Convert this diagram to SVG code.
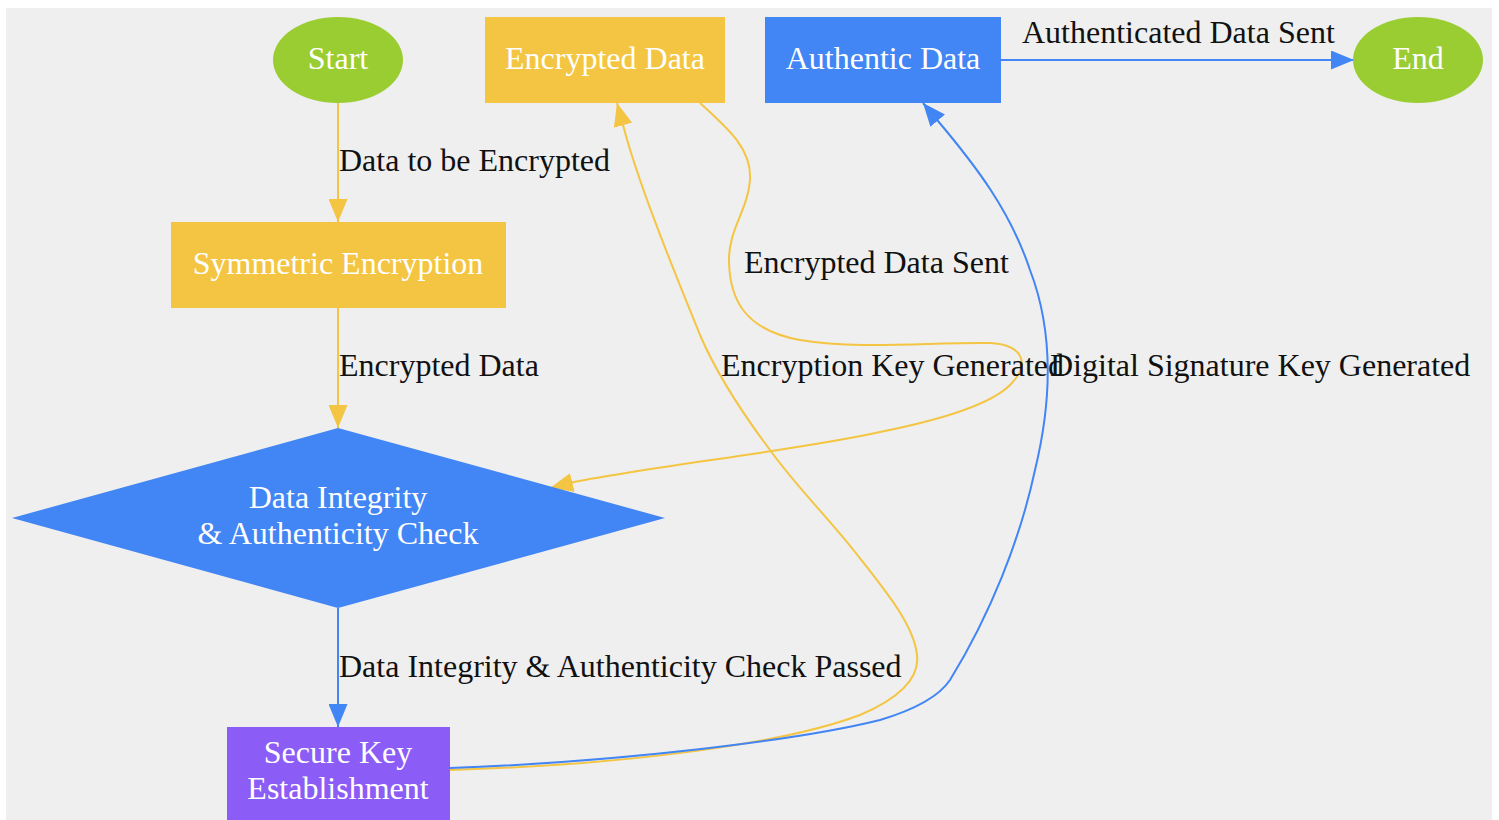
<svg xmlns="http://www.w3.org/2000/svg" width="1499" height="820" viewBox="0 0 1499 820">
  <style>
    .lbl { font-family: "Liberation Serif", "Times New Roman", serif; font-size: 32px; }
    .node-text { fill: #ffffff; text-anchor: middle; }
    .edge-text { fill: #111111; }
    .edge { fill: none; stroke-width: 2; }
    .y { stroke: #F4C542; }
    .b { stroke: #4285F4; }
  </style>
  <defs>
    <marker id="arrow-y" markerWidth="23" markerHeight="19" refX="23" refY="9.5" orient="auto" markerUnits="userSpaceOnUse">
      <path d="M0,0 L23,9.5 L0,19 Z" fill="#F4C542"/>
    </marker>
    <marker id="arrow-b" markerWidth="23" markerHeight="19" refX="23" refY="9.5" orient="auto" markerUnits="userSpaceOnUse">
      <path d="M0,0 L23,9.5 L0,19 Z" fill="#4285F4"/>
    </marker>
  </defs>

  <!-- canvas -->
  <rect x="0" y="0" width="1499" height="820" fill="#ffffff"/>
  <rect x="6" y="8" width="1486" height="812" fill="#EFEFEF"/>

  <!-- connectors -->
  <g id="connectors">
    <path class="edge y" d="M338,103 L338,222" marker-end="url(#arrow-y)"/>
    <path class="edge y" d="M338,308 L338,428" marker-end="url(#arrow-y)"/>
    <path class="edge b" d="M338,608 L338,727" marker-end="url(#arrow-b)"/>
    <path class="edge b" d="M1001,60 L1354,60" marker-end="url(#arrow-b)"/>
    <!-- Encrypted Data -> check -->
    <path class="edge y" d="M700,103 C730,130 752,150 750,180 C748,210 728,230 729,262 C730,300 745,330 800,340 C860,350 930,342 990,343 C1025,345 1030,365 1010,385 C990,405 940,420 880,432 C800,450 660,465 574,482 L550,488" marker-end="url(#arrow-y)"/>
    <!-- key establishment -> Encrypted Data -->
    <path class="edge y" d="M450,770 C620,765 780,745 860,715 C895,700 920,680 917,655 C914,625 885,590 855,552 C830,520 795,485 770,450 C740,410 715,370 700,335 C680,285 640,190 623,125 L617,103" marker-end="url(#arrow-y)"/>
    <!-- key establishment -> Authentic Data -->
    <path class="edge b" d="M450,768 C620,762 800,740 880,720 C920,708 940,695 950,680 C990,615 1020,540 1035,470 C1052,400 1053,330 1030,270 C1010,210 975,165 938,121 L923,103" marker-end="url(#arrow-b)"/>

    <text class="lbl edge-text" x="339" y="171">Data to be Encrypted</text>
    <text class="lbl edge-text" x="339" y="376">Encrypted Data</text>
    <text class="lbl edge-text" x="339" y="677">Data Integrity &amp; Authenticity Check Passed</text>
    <text class="lbl edge-text" x="1022" y="43">Authenticated Data Sent</text>
    <text class="lbl edge-text" x="744" y="273">Encrypted Data Sent</text>
    <text class="lbl edge-text" x="721" y="376">Encryption Key Generated</text>
    <text class="lbl edge-text" x="1050" y="376">Digital Signature Key Generated</text>
  </g>

  <!-- nodes -->
  <g id="start">
    <ellipse cx="338" cy="60" rx="65" ry="43" fill="#9ACD32"/>
    <text class="lbl node-text" x="338" y="69">Start</text>
  </g>
  <g id="encrypted-data">
    <rect x="485" y="17" width="240" height="86" fill="#F4C542"/>
    <text class="lbl node-text" x="605" y="69">Encrypted Data</text>
  </g>
  <g id="authentic-data">
    <rect x="765" y="17" width="236" height="86" fill="#4285F4"/>
    <text class="lbl node-text" x="883" y="69">Authentic Data</text>
  </g>
  <g id="end">
    <ellipse cx="1418" cy="60" rx="65" ry="43" fill="#9ACD32"/>
    <text class="lbl node-text" x="1418" y="69">End</text>
  </g>
  <g id="symmetric-encryption">
    <rect x="171" y="222" width="335" height="86" fill="#F4C542"/>
    <text class="lbl node-text" x="338" y="274">Symmetric Encryption</text>
  </g>
  <g id="integrity-check">
    <polygon points="338,428 665,518 338,608 12,518" fill="#4285F4"/>
    <text class="lbl node-text" x="338" y="508">Data Integrity</text>
    <text class="lbl node-text" x="338" y="544">&amp; Authenticity Check</text>
  </g>
  <g id="secure-key-establishment">
    <rect x="227" y="727" width="223" height="93" fill="#8B5CF6"/>
    <text class="lbl node-text" x="338" y="763">Secure Key</text>
    <text class="lbl node-text" x="338" y="799">Establishment</text>
  </g>
</svg>
